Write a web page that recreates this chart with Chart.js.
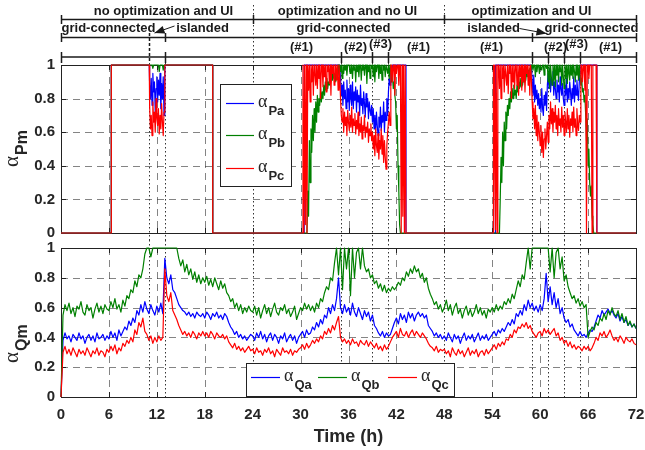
<!DOCTYPE html>
<html>
<head>
<meta charset="utf-8">
<script src="https://cdn.jsdelivr.net/npm/chart.js@4.4.1/dist/chart.umd.min.js"></script>
<style>
  html, body { margin: 0; padding: 0; background: #fff; }
  #wrap { position: relative; width: 645px; height: 450px; }
  canvas { position: absolute; left: 0; }
  #topChart { top: 0; }
  #botChart { top: 240px; }
</style>
</head>
<body>
<div id="wrap">
  <canvas id="topChart" width="645" height="240"></canvas>
  <canvas id="botChart" width="645" height="210"></canvas>
</div>
<script>
// ---- axes / labels ----
const X_TICKS = [0, 6, 12, 18, 24, 30, 36, 42, 48, 54, 60, 66, 72];
const Y_TICKS = [0, 0.2, 0.4, 0.6, 0.8, 1];
const EVENT_HOURS = [11, 13, 24, 35, 39, 41, 48, 59, 61, 63, 65];
const PM_NAMES = ['Pa', 'Pb', 'Pc'];
const QM_NAMES = ['Qa', 'Qb', 'Qc'];
const PHASES = ['no optimization and UI', 'optimization and no UI', 'optimization and UI'];
const MODES = ['grid-connected', 'islanded', 'grid-connected', 'islanded', 'grid-connected'];
const CASES = ['(#1)', '(#2)', '(#3)', '(#1)', '(#1)', '(#2)', '(#3)', '(#1)'];

// ---- alpha_Pm (top), noisy stretches sampled every 0.1 h ----
const PA_ISL = [.88,.80,.92,.76,.95,.84,.90,.72,.86,.93,.78,.91,.82,.95,.74,.89,.80,.93,.70]; // 11.1-12.9
const PA_OPT = [ // 35.0-41.4
  .92,.82,.88,.76,.90,.80,.85,.74,.91,.78,
  .86,.73,.88,.80,.76,.90,.74,.84,.79,.87,
  .72,.85,.78,.82,.70,.88,.76,.80,.71,.84,
  .77,.69,.83,.75,.80,.68,.78,.73,.70,.76,
  .66,.74,.62,.70,.60,.72,.64,.58,.69,.63,
  .75,.61,.70,.66,.78,.60,.72,.67,.80,.70,
  .84,.92,.88,.95,.90];
const PA_UI = [ // 59.0-65.0
  .90,.82,.94,.78,.88,.80,.85,.76,.83,.74,
  .80,.72,.86,.74,.70,.82,.76,.84,.73,.88,
  .95,.86,.98,.84,.92,.88,.96,.82,.90,.86,
  .80,.91,.84,.88,.78,.93,.86,.82,.89,.80,
  .76,.88,.82,.92,.78,.86,.80,.90,.84,.76,
  .86,.80,.93,.78,.88,.82,.91,.84,.79,.90,
  .95];

const PB_ISL = [1,1,1,1,.98,1,1,1,1,1,1,1,.96,1,1,1,1,.97,1]; // 11.1-12.9
const PB_OPT = [ // 30.8-42.4
  0,.25,.10,.55,.30,.62,.48,.70,.55,.74,.60,.78,
  .66,.82,.72,.80,.76,.86,.78,.84,.80,.88,
  .82,.90,.85,.92,.86,.90,.88,.94,.90,.95,
  .91,.96,.92,.95,.90,.97,.93,1,.94,1,
  .96,1,.92,1,.95,1,.97,1,.94,1,
  1,1,.95,1,1,.92,1,.97,1,.90,
  1,.96,1,.93,1,1,.91,1,.97,1,
  .94,1,1,.89,1,.96,1,.92,1,.98,
  1,.93,1,.90,1,.96,1,1,.92,1,
  .95,1,.91,1,.97,1,.93,1,1,.95,
  1,.92,1,.96,.90,.94,.86,.90,.82,.78,
  .62,.70,.40,.25,.05];
const PB_UI = [ // 54.9-66.6
  0,.20,.45,.30,.60,.40,.66,.55,.72,.62,.76,
  .70,.80,.74,.84,.78,.86,.80,.88,.82,.85,
  .80,.88,.84,.90,.86,.92,.87,.90,.88,.93,
  .90,.95,.91,.96,.93,.97,.94,.98,.95,1,
  1,.97,1,1,.93,1,.96,1,1,.95,
  1,1,.97,1,1,.94,1,1,.98,1,
  .90,1,.86,1,.93,.88,1,.91,1,.87,
  1,.94,1,.90,1,.96,1,.88,1,.93,
  .86,1,.92,1,.89,1,.95,.91,1,.94,
  1,.92,1,.96,.90,1,.94,1,.91,1,
  .93,
  .88,.92,.84,.86,.78,.82,.70,.55,.68,.40,.50,.30,.22,.28,.10,.05];

const PC_ISL = [.75,.62,.70,.58,.78,.66,.72,.60,.80,.68,.64,.74,.59,.70,.62,.77,.66,.58,.72]; // 11.1-12.9
const PC_OPT = [ // 30.3-43.2
  1,0,1,.05,1,0,1,
  .85,1,.78,1,.90,1,.82,1,.95,.88,
  1,.86,1,.92,1,.80,1,1,.87,1,
  .93,1,.84,1,.96,1,.89,1,.82,1,
  .95,1,.88,1,1,.91,1,.85,1,.94,
  .80,.70,.66,.74,.60,.72,.64,.69,.58,.73,
  .66,.61,.70,.63,.75,.60,.68,.64,.71,.59,
  .67,.62,.72,.58,.65,.60,.69,.56,.64,.61,
  .70,.57,.63,.60,.66,.54,.62,.58,.65,.55,
  .60,.50,.58,.46,.62,.52,.48,.59,.44,.55,
  .50,.62,.47,.58,.42,.55,.45,.38,.52,.60,
  .66,.72,.64,1,
  1,.9,1,1,.82,1,.95,1,1,.88,1,
  1,0,1,.1,1,0,1,0];
const PC_UI = [ // 54.1-67.1
  1,0,1,.02,1,0,1,
  1,.86,
  1,.80,1,.92,1,.84,1,1,.88,1,
  .83,1,.95,1,.80,1,.90,1,.86,1,
  1,.88,1,.82,1,.93,1,.85,1,.90,
  1,.84,1,.95,1,.88,1,.82,1,.92,
  .78,.68,.74,.62,.76,.58,.70,.55,.66,.60,
  .52,.64,.48,.60,.45,.56,.62,.50,.58,.66,
  .54,.70,.62,.78,.65,.74,.60,.72,.66,.76,
  .62,.70,.58,.74,.64,.68,.60,.75,.63,.70,
  .58,.72,.66,.60,.74,.62,.70,.57,.68,.64,
  .72,.60,.75,.63,.68,.58,.74,.65,.61,.70,
  .66,
  1,1,.9,1,1,.85,1,0,1,1,.92,1,1,1,0,1,1,1,1,1,1];

// ---- alpha_Qm (bottom), every 0.25 h from 0 to 72 ----
const QA = [
  .00,.38,.43,.39,.41,.37,.42,.40,.38,.43,.39,.41,.36,.40,.42,.38,.41,.37,.43,.39,.40,.42,.38,.41,
  .39,.44,.40,.43,.38,.45,.41,.44,.47,.45,.51,.48,.53,.50,.58,.55,.62,.57,.64,.59,.56,.62,.58,.55,
  .61,.57,.63,.56,.93,.80,.76,.82,.72,.70,.66,.62,.60,.58,.57,.55,.57,.54,.56,.53,.57,.55,.54,.56,
  .53,.57,.55,.52,.56,.54,.57,.53,.55,.52,.56,.54,.50,.47,.45,.42,.44,.40,.42,.39,.41,.38,.40,.42,
  .41,.38,.43,.40,.44,.39,.42,.37,.41,.43,.38,.42,.40,.36,.41,.39,.43,.37,.40,.42,.38,.41,.36,.40,
  .42,.44,.40,.45,.42,.43,.47,.45,.50,.47,.52,.49,.55,.53,.60,.56,.62,.58,.66,.80,.60,.56,.62,.57,
  .60,.55,.63,.57,.54,.60,.56,.52,.58,.54,.57,.51,.55,.48,.46,.43,.41,.44,.40,.43,.41,.42,.46,.50,
  .53,.49,.56,.52,.55,.50,.57,.53,.56,.51,.55,.57,.54,.56,.53,.55,.48,.46,.44,.41,.43,.40,.42,.39,
  .41,.38,.43,.40,.37,.42,.39,.41,.36,.40,.43,.38,.41,.39,.42,.37,.40,.43,.38,.41,.39,.42,.38,.40,
  .42,.44,.41,.45,.43,.46,.44,.47,.50,.48,.52,.49,.56,.54,.58,.55,.62,.58,.65,.60,.63,.58,.61,.57,
  .62,.58,.66,.83,.64,.74,.62,.70,.60,.66,.56,.60,.53,.50,.52,.47,.49,.45,.43,.41,.44,.41,.42,.40,
  .43,.45,.44,.47,.51,.55,.53,.58,.55,.57,.59,.56,.58,.55,.53,.56,.51,.54,.50,.52,.48,.50,.47,.49,
  .46];
const QB = [
  .00,.55,.62,.58,.63,.56,.60,.54,.61,.59,.64,.57,.55,.62,.58,.60,.53,.59,.63,.57,.61,.56,.62,.59,
  .58,.64,.60,.66,.59,.62,.57,.65,.61,.68,.66,.72,.70,.78,.74,.82,.80,.86,.96,1,1,.94,1,1,
  1,1,1,1,1,1,1,1,1,1,1,.93,.88,.92,.84,.89,.82,.86,.79,.84,.77,.82,.76,.80,
  .77,.81,.75,.79,.74,.80,.76,.72,.78,.73,.76,.70,.68,.64,.66,.60,.63,.58,.62,.56,.60,.57,.61,.58,
  .57,.61,.55,.60,.53,.58,.62,.56,.60,.54,.59,.63,.57,.55,.60,.58,.62,.56,.59,.54,.57,.61,.52,.56,
  .60,.58,.63,.59,.62,.58,.61,.57,.63,.60,.66,.64,.70,.74,.72,.80,.78,.90,1,.82,1,.72,1,.86,
  1,.68,1,.80,.97,1,.86,1,.88,.84,.86,.80,.82,.76,.78,.73,.76,.71,.75,.70,.73,.71,.74,.72,
  .74,.77,.75,.80,.78,.84,.81,.86,.83,.88,.84,.86,.80,.83,.77,.80,.73,.69,.66,.62,.64,.59,.62,.57,
  .60,.65,.58,.62,.55,.60,.63,.56,.59,.53,.58,.61,.55,.59,.54,.57,.62,.56,.60,.55,.58,.53,.59,.57,
  .60,.57,.62,.58,.61,.59,.64,.62,.66,.63,.69,.66,.72,.78,.74,.82,.79,.90,1,.86,1,1,1,1,
  1,1,1,1,1,.84,1,.80,.97,1,.86,.94,.78,.82,.74,.70,.66,.68,.63,.66,.61,.64,.60,.62,
  .40,.44,.47,.45,.50,.48,.53,.51,.56,.52,.58,.55,.60,.56,.54,.58,.52,.56,.50,.54,.48,.51,.47,.49,
  .46];
const QC = [
  .00,.30,.34,.29,.32,.28,.33,.30,.27,.32,.29,.31,.28,.33,.30,.27,.31,.29,.33,.28,.31,.30,.27,.32,
  .30,.34,.31,.35,.29,.33,.31,.36,.34,.38,.36,.40,.37,.45,.42,.50,.47,.53,.44,.42,.38,.41,.36,.40,
  .37,.41,.38,.40,.86,.68,.64,.70,.58,.55,.52,.48,.45,.42,.44,.41,.43,.40,.44,.42,.39,.43,.41,.44,
  .41,.43,.40,.44,.42,.39,.43,.41,.40,.42,.39,.41,.37,.35,.33,.36,.32,.34,.31,.33,.30,.32,.34,.31,
  .32,.29,.33,.30,.31,.28,.32,.30,.33,.29,.31,.27,.32,.30,.28,.33,.30,.31,.29,.32,.28,.31,.30,.32,
  .33,.35,.32,.36,.33,.35,.38,.36,.39,.37,.41,.39,.44,.42,.46,.43,.48,.45,.50,.54,.40,.37,.39,.36,
  .38,.35,.39,.36,.37,.34,.38,.36,.35,.38,.34,.37,.35,.33,.36,.32,.34,.31,.35,.32,.34,.37,.40,.42,
  .44,.40,.46,.42,.41,.44,.40,.43,.45,.41,.44,.42,.40,.43,.41,.39,.36,.34,.33,.31,.34,.30,.32,.31,
  .32,.29,.31,.27,.33,.30,.28,.32,.29,.31,.27,.30,.33,.28,.31,.29,.32,.27,.30,.31,.28,.32,.29,.31,
  .33,.35,.32,.36,.34,.37,.35,.39,.38,.42,.40,.45,.43,.47,.46,.49,.47,.50,.46,.48,.44,.42,.40,.43,
  .44,.41,.46,.43,.45,.42,.44,.46,.41,.43,.38,.40,.36,.38,.34,.37,.33,.35,.32,.34,.33,.31,.34,.32,
  .34,.31,.33,.36,.40,.38,.43,.41,.44,.40,.42,.45,.41,.38,.40,.37,.41,.39,.36,.40,.38,.37,.39,.36,
  .35];

// ---- helpers ----
const pts = list => list.map(([x, y]) => ({ x, y }));
const run = (t0, vals) => vals.map((y, i) => ({ x: +(t0 + i * 0.1).toFixed(2), y }));
const quarter = vals => vals.map((y, i) => ({ x: i * 0.25, y }));

const pmA = [
  ...pts([[0, 0], [6.3, 0], [6.3, 1], [11.05, 1]]), ...run(11.1, PA_ISL),
  ...pts([[13, 1], [19, 1], [19, 0], [30.45, 0], [30.45, 1], [34.9, 1]]), ...run(35, PA_OPT),
  ...pts([[41.5, 1], [43.2, 1], [43.2, 0], [54.4, 0], [54.4, 1], [58.9, 1]]), ...run(59, PA_UI),
  ...pts([[65.1, 1], [67.1, 1], [67.1, 0], [72, 0]])
];
const pmB = [
  ...pts([[0, 0], [6.3, 0], [6.3, 1], [11.05, 1]]), ...run(11.1, PB_ISL),
  ...pts([[13, 1], [19, 1], [19, 0], [30.8, 0]]), ...run(30.8, PB_OPT),
  ...pts([[42.5, 0], [54.9, 0]]), ...run(54.9, PB_UI),
  ...pts([[66.7, 0], [72, 0]])
];
const pmC = [
  ...pts([[0, 0], [6.3, 0], [6.3, 1], [11.05, 1]]), ...run(11.1, PC_ISL),
  ...pts([[13, 1], [19, 1], [19, 0], [30.3, 0]]), ...run(30.3, PC_OPT),
  ...pts([[54.1, 0]]), ...run(54.1, PC_UI),
  ...pts([[67.1, 0], [72, 0]])
];

const COLORS = ['#0000ff', '#008000', '#ff0000'];
const FONT = '"Liberation Sans", Arial, sans-serif';
const SERIF = '"Liberation Serif", "Times New Roman", serif';

function lineSeries(seriesData) {
  return seriesData.map((d, i) => ({
    data: d, borderColor: COLORS[i], borderWidth: 1.2, borderJoinStyle: 'round',
    pointRadius: 0, fill: false, tension: 0, order: 3 - i, clip: 2
  }));
}

function seg(ctx, x1, y1, x2, y2) {
  ctx.beginPath(); ctx.moveTo(x1, y1); ctx.lineTo(x2, y2); ctx.stroke();
}

function alphaText(ctx, x, y, sub, aSize, sSize, drop) {
  ctx.textAlign = 'left';
  ctx.textBaseline = 'alphabetic';
  ctx.font = aSize + 'px ' + SERIF;
  ctx.fillText('α', x, y);
  const w = ctx.measureText('α').width;
  ctx.font = 'bold ' + sSize + 'px ' + FONT;
  ctx.fillText(sub, x + w + 1, y + drop);
}

function frame(cfg) {
  return {
    id: 'frame' + cfg.name,
    beforeDatasetsDraw(chart) {
      const { ctx, chartArea: a, scales: { x, y } } = chart;
      ctx.save();
      ctx.strokeStyle = 'rgba(50,50,50,0.6)';
      ctx.lineWidth = 1;
      ctx.setLineDash([7, 5]);
      X_TICKS.slice(1, -1).forEach(t => {
        if (EVENT_HOURS.includes(t)) return;
        const p = Math.round(x.getPixelForValue(t)) + 0.5;
        seg(ctx, p, a.top, p, a.bottom);
      });
      Y_TICKS.slice(1, -1).forEach(v => {
        const p = Math.round(y.getPixelForValue(v)) + 0.5;
        seg(ctx, a.left, p, a.right, p);
      });
      ctx.strokeStyle = '#333';
      ctx.setLineDash([1.5, 2.5]);
      EVENT_HOURS.forEach(t => {
        const p = Math.round(x.getPixelForValue(t)) + 0.5;
        seg(ctx, p, cfg.eventTop(t), p, cfg.eventBottom(a));
      });
      ctx.setLineDash([]);
      ctx.strokeStyle = '#222';
      ctx.strokeRect(a.left + 0.5, a.top + 0.5, a.right - a.left, a.bottom - a.top);
      X_TICKS.forEach(t => {
        const p = Math.round(x.getPixelForValue(t)) + 0.5;
        seg(ctx, p, a.bottom, p, a.bottom - 5);
        seg(ctx, p, a.top, p, a.top + 5);
      });
      Y_TICKS.forEach(v => {
        const p = Math.round(y.getPixelForValue(v)) + 0.5;
        seg(ctx, a.left, p, a.left + 5, p);
        seg(ctx, a.right, p, a.right - 5, p);
      });
      ctx.restore();
    },
    afterDraw(chart) {
      const { ctx } = chart;
      ctx.save();
      ctx.fillStyle = '#262626';
      // y label
      ctx.save();
      ctx.translate(18, cfg.labelY);
      ctx.rotate(-Math.PI / 2);
      alphaText(ctx, 0, 0, cfg.yName, 21, 16, 9);
      ctx.restore();
      // legend
      const L = cfg.legend;
      ctx.fillStyle = '#fff';
      ctx.fillRect(L.box[0], L.box[1], L.box[2], L.box[3]);
      ctx.strokeStyle = '#222';
      ctx.lineWidth = 1;
      ctx.strokeRect(L.box[0] + 0.5, L.box[1] + 0.5, L.box[2], L.box[3]);
      cfg.names.forEach((n, i) => {
        const e = L.items[i];
        ctx.strokeStyle = COLORS[i];
        ctx.lineWidth = 1.2;
        seg(ctx, e[0], e[2] + 0.5, e[1], e[2] + 0.5);
        ctx.fillStyle = '#262626';
        alphaText(ctx, e[1] + 4, e[2] + 4, n, 18, 13, 8);
      });
      ctx.restore();
      if (cfg.extra) cfg.extra(chart);
    }
  };
}

function drawArrow(ctx, x1, y1, x2, y2) {
  seg(ctx, x1, y1, x2, y2);
  const ang = Math.atan2(y2 - y1, x2 - x1);
  ctx.beginPath();
  ctx.moveTo(x2, y2);
  ctx.lineTo(x2 - 10 * Math.cos(ang) + 4 * Math.sin(ang), y2 - 10 * Math.sin(ang) - 4 * Math.cos(ang));
  ctx.lineTo(x2 - 10 * Math.cos(ang) - 4 * Math.sin(ang), y2 - 10 * Math.sin(ang) + 4 * Math.cos(ang));
  ctx.closePath();
  ctx.fill();
}

function drawAnnotations(chart) {
  const { ctx } = chart;
  const px = t => Math.round(chart.scales.x.getPixelForValue(t)) + 0.5;
  ctx.save();
  ctx.strokeStyle = '#1a1a1a';
  ctx.fillStyle = '#1a1a1a';
  ctx.lineWidth = 1.5;
  [19.5, 37.5, 57].forEach(r => seg(ctx, px(0), r, px(72), r));
  [0, 24, 48, 72].forEach(t => seg(ctx, px(t), 15, px(t), 24));
  [0, 13, 59, 72].forEach(t => seg(ctx, px(t), 33, px(t), 42));
  [0, 13, 35, 39, 41, 59, 61, 63, 65, 72].forEach(t => seg(ctx, px(t), 52, px(t), 63));
  ctx.setLineDash([3, 2]);
  seg(ctx, px(11), 33, px(11), 63);
  ctx.setLineDash([]);

  ctx.font = 'bold 13px ' + FONT;
  ctx.textAlign = 'center';
  ctx.textBaseline = 'middle';
  [12.8, 35.8, 58.9].forEach((t, i) => ctx.fillText(PHASES[i], px(t), 11.5));
  [5.9, 17.6, 35.3, 54.1, 66.4].forEach((t, i) => ctx.fillText(MODES[i], px(t), 28));
  const caseAt = [30.1, 36.8, 39.9, 44.7, 53.8, 61.9, 64.5, 68.8];
  const raised = [0, 0, 1, 0, 0, 0, 1, 0];
  caseAt.forEach((t, i) => ctx.fillText(CASES[i], px(t), raised[i] ? 44 : 47));

  ctx.lineWidth = 1;
  drawArrow(ctx, px(14.1), 26, px(11.6), 33);
  drawArrow(ctx, px(57.4), 28.5, px(60.7), 33.5);
  ctx.restore();
}

function makeChart(id, datasets, cfg) {
  return new Chart(document.getElementById(id), {
    type: 'line',
    data: { datasets },
    options: {
      responsive: false,
      animation: false,
      parsing: false,
      normalized: true,
      events: [],
      layout: { padding: cfg.padding, autoPadding: false },
      plugins: { legend: { display: false }, tooltip: { enabled: false } },
      scales: {
        x: {
          type: 'linear', min: 0, max: 72,
          grid: { display: false, drawTicks: false },
          border: { display: false },
          afterBuildTicks: s => { s.ticks = X_TICKS.map(value => ({ value })); },
          afterFit: s => { s.height = cfg.xHeight; s.paddingLeft = 0; s.paddingRight = 0; },
          ticks: {
            display: cfg.xLabels, padding: 9, color: '#262626', maxRotation: 0, autoSkip: false,
            font: { family: FONT, size: 15, weight: 'bold' }
          }
        },
        y: {
          type: 'linear', min: 0, max: 1,
          grid: { display: false, drawTicks: false },
          border: { display: false },
          afterBuildTicks: s => { s.ticks = Y_TICKS.map(value => ({ value })); },
          afterFit: s => { s.width = 61; s.paddingTop = 0; s.paddingBottom = 0; },
          ticks: {
            padding: 6, color: '#262626',
            font: { family: FONT, size: 15, weight: 'bold' },
            callback: v => String(+v.toFixed(1))
          }
        }
      }
    },
    plugins: [frame(cfg)]
  });
}

makeChart('topChart', lineSeries([pmA, pmB, pmC]), {
  name: 'Top',
  padding: { top: 65, right: 9, bottom: 7, left: 0 },
  xHeight: 0,
  xLabels: false,
  yName: 'Pm',
  labelY: 167,
  names: PM_NAMES,
  eventTop: t => (t === 24 || t === 48) ? 5 : 63,
  eventBottom: () => 240,
  legend: { box: [220, 84, 71, 102], items: [[226, 254, 103], [226, 254, 135], [226, 254, 168]] },
  extra: drawAnnotations
});

makeChart('botChart', lineSeries([quarter(QA), quarter(QB), quarter(QC)]), {
  name: 'Bot',
  padding: { top: 8, right: 9, bottom: 0, left: 0 },
  xHeight: 53,
  xLabels: true,
  yName: 'Qm',
  labelY: 123,
  names: QM_NAMES,
  eventTop: () => 0,
  eventBottom: a => a.bottom,
  legend: {
    box: [246, 123, 208, 33],
    items: [[251, 280, 137], [318, 347, 137], [388, 417, 137]]
  },
  extra: chart => {
    const { ctx, chartArea: a } = chart;
    ctx.save();
    ctx.fillStyle = '#262626';
    ctx.font = 'bold 18px ' + FONT;
    ctx.textAlign = 'center';
    ctx.textBaseline = 'middle';
    ctx.fillText('Time (h)', (a.left + a.right) / 2, 197);
    ctx.restore();
  }
});
</script>
</body>
</html>
